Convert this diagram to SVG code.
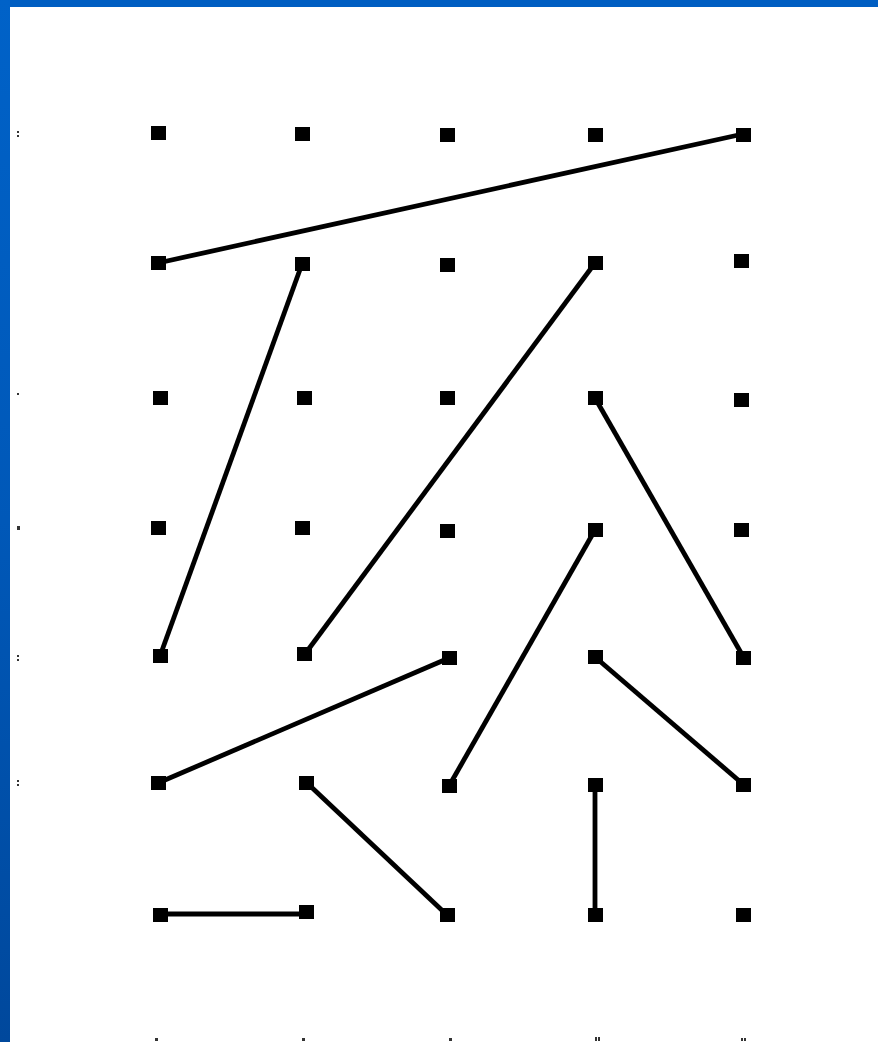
<svg xmlns="http://www.w3.org/2000/svg" width="878" height="1042" viewBox="0 0 878 1042">
<defs>
<linearGradient id="lb" x1="0" y1="0" x2="0" y2="1">
<stop offset="0" stop-color="#0062C8"/>
<stop offset="0.5" stop-color="#0058B8"/>
<stop offset="1" stop-color="#00489C"/>
</linearGradient>
<style>
.n rect{fill:#000}
.c line{stroke:#000;stroke-width:4.8;stroke-linecap:butt}
.m{fill:#333}
</style>
</defs>
<rect x="0" y="0" width="878" height="1042" fill="#fff"/>
<rect x="0" y="0" width="878" height="7" fill="#005EC2"/>
<rect x="0" y="0" width="10" height="1042" fill="url(#lb)"/>
<g id="marks" class="m">
<rect x="17" y="131" width="2" height="2"/><rect x="17" y="135" width="2" height="2"/>
<rect x="17" y="393" width="2" height="2"/>
<rect x="17" y="526" width="3" height="4"/>
<rect x="17" y="655" width="2" height="2"/><rect x="17" y="659" width="2" height="2"/>
<rect x="17" y="780" width="2" height="2"/><rect x="17" y="784" width="2" height="2"/>
<rect x="155" y="1038" width="3" height="3"/>
<rect x="302" y="1038" width="3" height="3"/>
<rect x="449" y="1038" width="3" height="3"/>
<rect x="595" y="1037" width="2" height="4"/><rect x="598" y="1037" width="2" height="4"/>
<rect x="741" y="1038" width="2" height="3"/><rect x="744" y="1038" width="2" height="3"/>
</g>
<g id="connectors" class="c">
<line x1="158" y1="263" x2="743" y2="134"/>
<line x1="302" y1="264" x2="160" y2="656"/>
<line x1="595" y1="263" x2="305" y2="654"/>
<line x1="595" y1="398" x2="744" y2="658"/>
<line x1="595" y1="530" x2="449" y2="786"/>
<line x1="449" y1="658" x2="158" y2="783"/>
<line x1="595" y1="657" x2="744" y2="785"/>
<line x1="307" y1="783" x2="447" y2="915"/>
<line x1="595" y1="785" x2="595" y2="915"/>
<line x1="160" y1="914" x2="307" y2="914"/>
</g>
<g class="n">
<g id="p11"><rect x="151" y="126" width="15" height="14"/></g>
<g id="p12"><rect x="295" y="127" width="15" height="14"/></g>
<g id="p13"><rect x="440" y="128" width="15" height="14"/></g>
<g id="p14"><rect x="588" y="128" width="15" height="14"/></g>
<g id="p15"><rect x="736" y="128" width="15" height="14"/></g>
<g id="p21"><rect x="151" y="256" width="15" height="14"/></g>
<g id="p22"><rect x="295" y="257" width="15" height="14"/></g>
<g id="p23"><rect x="440" y="258" width="15" height="14"/></g>
<g id="p24"><rect x="588" y="256" width="15" height="14"/></g>
<g id="p25"><rect x="734" y="254" width="15" height="14"/></g>
<g id="p31"><rect x="153" y="391" width="15" height="14"/></g>
<g id="p32"><rect x="297" y="391" width="15" height="14"/></g>
<g id="p33"><rect x="440" y="391" width="15" height="14"/></g>
<g id="p34"><rect x="588" y="391" width="15" height="14"/></g>
<g id="p35"><rect x="734" y="393" width="15" height="14"/></g>
<g id="p41"><rect x="151" y="521" width="15" height="14"/></g>
<g id="p42"><rect x="295" y="521" width="15" height="14"/></g>
<g id="p43"><rect x="440" y="524" width="15" height="14"/></g>
<g id="p44"><rect x="588" y="523" width="15" height="14"/></g>
<g id="p45"><rect x="734" y="523" width="15" height="14"/></g>
<g id="p51"><rect x="153" y="649" width="15" height="14"/></g>
<g id="p52"><rect x="297" y="647" width="15" height="14"/></g>
<g id="p53"><rect x="442" y="651" width="15" height="14"/></g>
<g id="p54"><rect x="588" y="650" width="15" height="14"/></g>
<g id="p55"><rect x="736" y="651" width="15" height="14"/></g>
<g id="p61"><rect x="151" y="776" width="15" height="14"/></g>
<g id="p62"><rect x="299" y="776" width="15" height="14"/></g>
<g id="p63"><rect x="442" y="779" width="15" height="14"/></g>
<g id="p64"><rect x="588" y="778" width="15" height="14"/></g>
<g id="p65"><rect x="736" y="778" width="15" height="14"/></g>
<g id="p71"><rect x="153" y="908" width="15" height="14"/></g>
<g id="p72"><rect x="299" y="905" width="15" height="14"/></g>
<g id="p73"><rect x="440" y="908" width="15" height="14"/></g>
<g id="p74"><rect x="588" y="908" width="15" height="14"/></g>
<g id="p75"><rect x="736" y="908" width="15" height="14"/></g>
</g>
</svg>
